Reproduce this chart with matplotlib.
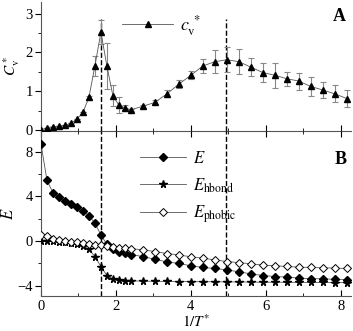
import matplotlib
matplotlib.use("Agg")
import matplotlib.pyplot as plt
from matplotlib.ticker import MultipleLocator

plt.rcParams['font.family'] = ['Liberation Serif', 'DejaVu Serif']
plt.rcParams['mathtext.fontset'] = 'stix'

# data
inv_t = [0, 0.16, 0.32, 0.48, 0.64, 0.8, 0.96, 1.12, 1.28, 1.44, 1.6, 1.76, 1.92,
         2.08, 2.24, 2.4, 2.72, 3.04, 3.36, 3.68, 4.0, 4.32, 4.64, 4.96, 5.28,
         5.6, 5.92, 6.24, 6.56, 6.88, 7.2, 7.52, 7.84, 8.16]
cv = [0, 0.06, 0.08, 0.1, 0.12, 0.17, 0.28, 0.45, 0.84, 1.65, 2.52, 1.65, 0.88,
      0.64, 0.57, 0.52, 0.61, 0.71, 0.93, 1.18, 1.41, 1.65, 1.76, 1.81, 1.76,
      1.62, 1.48, 1.41, 1.32, 1.26, 1.12, 1.03, 0.93, 0.81]
cv_err = [0, 0, 0, 0, 0, 0, 0, 0, 0.03, 0.26, 0.31, 0.6, 0.27, 0.2, 0.06, 0.03,
          0.04, 0.05, 0.09, 0.1, 0.1, 0.17, 0.3, 0.32, 0.32, 0.24, 0.25, 0.32,
          0.18, 0.22, 0.24, 0.21, 0.22, 0.23]
e_total = [8.72, 5.45, 4.31, 3.9, 3.6, 3.33, 3.06, 2.7, 2.26, 1.6, 0.54, -0.3,
           -0.74, -0.98, -1.1, -1.22, -1.4, -1.64, -1.88, -2.02, -2.23, -2.38,
           -2.47, -2.59, -2.77, -2.95, -3.1, -3.19, -3.24, -3.33, -3.39, -3.39,
           -3.45, -3.48]
e_hbond = [0.0, -0.02, -0.05, -0.08, -0.12, -0.17, -0.25, -0.45, -0.75, -1.4,
           -2.3, -3.1, -3.4, -3.5, -3.55, -3.58, -3.6, -3.62, -3.63, -3.64,
           -3.65, -3.66, -3.66, -3.67, -3.68, -3.69, -3.7, -3.7, -3.71, -3.71,
           -3.72, -3.72, -3.73, -3.73]
e_phobic = [0.54, 0.45, 0.15, 0.06, 0.03, -0.06, -0.12, -0.2, -0.3, -0.33,
            -0.38, -0.45, -0.54, -0.6, -0.66, -0.69, -0.8, -0.95, -1.13, -1.25,
            -1.43, -1.55, -1.7, -1.85, -1.94, -2.05, -2.17, -2.23, -2.29, -2.35,
            -2.38, -2.41, -2.44, -2.47]
transitions = [1.6, 4.95]

fig = plt.figure(figsize=(3.53, 3.31), dpi=100)
ax1 = fig.add_axes([0.116, 0.604, 0.878, 0.39])
ax2 = fig.add_axes([0.116, 0.107, 0.878, 0.497])

line_c = '#555555'

# --- panel A: heat capacity
ax1.errorbar(inv_t, cv, yerr=cv_err, fmt='none', ecolor='#888888',
             elinewidth=0.8, capsize=2, capthick=0.8, zorder=2)
ax1.plot(inv_t, cv, color=line_c, lw=0.6, marker='^', ms=5, mfc='black',
         mec='black', label=r'$c_{\rm v}^{\ *}$', zorder=3)
ax1.set_xlim(0, 8.27)
ax1.set_ylim(-0.03, 3.3)
ax1.set_ylabel(r'$C^*_{\rm v}$', fontsize=11, labelpad=2)
ax1.set_xticklabels([])
for xv in transitions:
    ax1.plot([xv, xv], [-0.03, 2.87], ls='--', color='black', lw=1.0, zorder=1)
ax1.legend(loc='upper center', bbox_to_anchor=(0.39, 1.04), frameon=False,
           fontsize=13, handlelength=2.8, handletextpad=0.4)
ax1.text(0.985, 0.95, 'A', transform=ax1.transAxes, ha='right', va='top',
         fontsize=13, fontweight='bold')

# --- panel B: energies
ax2.plot(inv_t, e_total, color=line_c, lw=0.6, marker='D', ms=4.5,
         mfc='black', mec='black', label='$E$', zorder=3)
ax2.plot(inv_t, e_hbond, color=line_c, lw=0.6, marker='*', ms=5.5,
         mfc='black', mec='black', label=r'$E_{\rm hbond}$', zorder=3)
ax2.plot(inv_t, e_phobic, color=line_c, lw=0.6, marker='D', ms=4.5,
         mfc='white', mec='black', mew=0.7, label=r'$E_{\rm phobic}$', zorder=3)
for xv in transitions:
    ax2.axvline(xv, ls='--', color='black', lw=1.0, zorder=1)
ax2.set_xlim(0, 8.27)
ax2.set_ylim(-4.9, 9.85)
ax2.set_ylabel('$E$', fontsize=12, labelpad=0)
ax2.set_xlabel(r'$1/T^{*}$', fontsize=11, labelpad=0)
ax2.legend(loc='upper left', bbox_to_anchor=(0.27, 0.97), frameon=False,
           fontsize=12, handlelength=2.8, handletextpad=0.4, labelspacing=0.55)
ax2.text(0.985, 0.88, 'B', transform=ax2.transAxes, ha='right', va='top',
         fontsize=13, fontweight='bold')

for ax in (ax1, ax2):
    ax.spines['right'].set_visible(False)
    ax.spines['top'].set_visible(False)
    ax.spines['left'].set_color('#555555')
    ax.spines['bottom'].set_color('#555555')
    ax.xaxis.set_major_locator(MultipleLocator(2))
    ax.xaxis.set_minor_locator(MultipleLocator(1))
    ax.tick_params(axis='x', which='both', direction='in', labelsize=10.5)
    ax.tick_params(axis='y', which='both', direction='out', labelsize=10.5, pad=2)
    ax.tick_params(which='major', length=4)
    ax.tick_params(which='minor', length=2)
    ax.patch.set_alpha(0)

ax1.yaxis.set_major_locator(MultipleLocator(1))
ax1.yaxis.set_minor_locator(MultipleLocator(0.5))
ax2.yaxis.set_major_locator(MultipleLocator(4))
ax2.yaxis.set_minor_locator(MultipleLocator(2))
ax2.tick_params(axis='x', which='both', top=True)

fig.savefig('out.png', dpi=100)
